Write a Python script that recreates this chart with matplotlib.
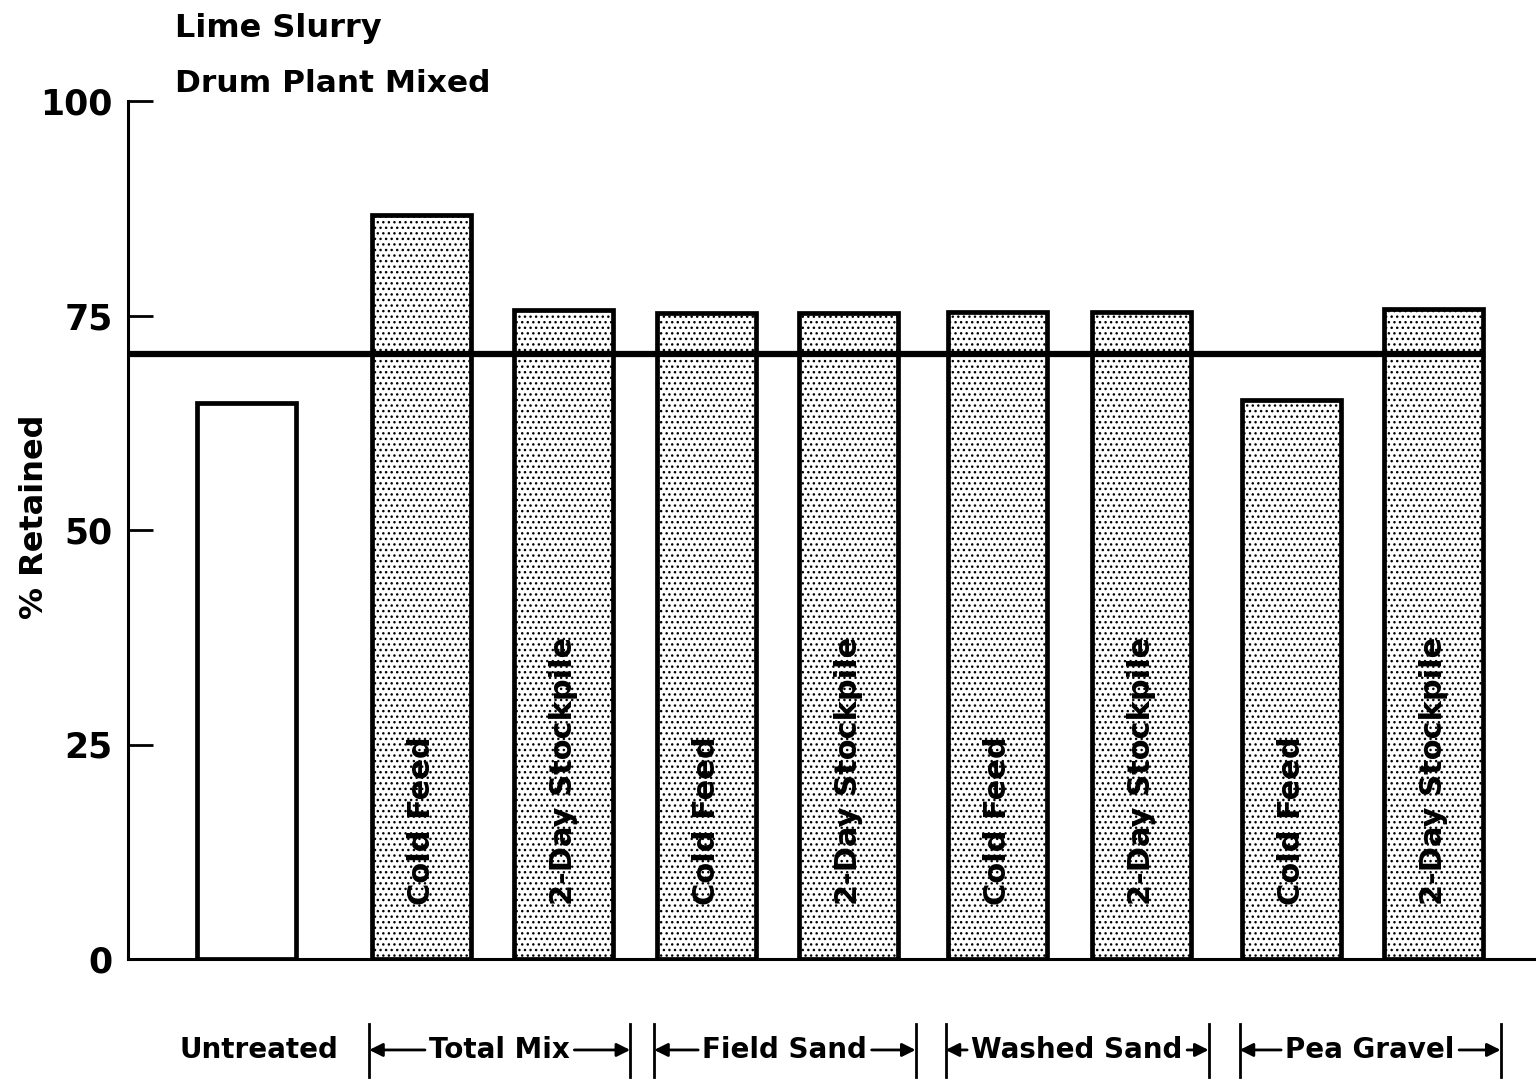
import matplotlib.pyplot as plt

# Data
bar_labels = ['', 'Cold Feed', '2-Day Stockpile', 'Cold Feed', '2-Day Stockpile',
              'Cold Feed', '2-Day Stockpile', 'Cold Feed', '2-Day Stockpile']
retained = [64.8, 86.7, 75.6, 75.3, 75.3, 75.4, 75.4, 65.2, 75.7]
treated = [False, True, True, True, True, True, True, True, True]
x_pos = [0, 1.224, 2.217, 3.217, 4.213, 5.255, 6.262, 7.311, 8.304]
groups = ['Total Mix', 'Field Sand', 'Washed Sand', 'Pea Gravel']
group_bars = [(1, 2), (3, 4), (5, 6), (7, 8)]
criterion = 70.5
y_ticks = [0, 25, 50, 75, 100]

plt.rcParams['font.family'] = 'DejaVu Sans'
plt.rcParams['font.weight'] = 'bold'

fig = plt.figure(figsize=(15.36, 10.83), dpi=100)
ax = fig.add_axes([128 / 1536, 124 / 1083, 1 - 128 / 1536, 858 / 1083])

w = 0.692
for x, v, t, lab in zip(x_pos, retained, treated, bar_labels):
    ax.bar(x, v, width=w, facecolor='white', edgecolor='black', linewidth=3.4,
           hatch='...' if t else None, zorder=2)
    if lab:
        ax.text(x, 6.3, lab, rotation=90, ha='center', va='bottom',
                fontsize=22, fontweight='bold', zorder=4)

x_left = (128 - 246.5) / 143
x_right = (1536 - 246.5) / 143
ax.hlines(criterion, x_left, x_pos[-1] + w / 2, color='black', linewidth=4.5, zorder=3)

ax.set_xlim(x_left, x_right)
ax.set_ylim(0, 100)
ax.set_xticks([])
ax.set_yticks(y_ticks)
ax.set_yticklabels([str(t) for t in y_ticks], fontsize=25, fontweight='bold')
ax.tick_params(axis='y', direction='in', length=18, width=2, pad=11)
for s in ['top', 'right']:
    ax.spines[s].set_visible(False)
ax.spines['left'].set_linewidth(2.2)
ax.spines['bottom'].set_linewidth(2.2)

fig.text(35 / 1536, 1 - 517 / 1083, '% Retained', rotation=90, ha='center',
         va='center', fontsize=23, fontweight='bold')
fig.text(175 / 1536, 1 - 28 / 1083, 'Lime Slurry', va='center', fontsize=23, fontweight='bold')
fig.text(175 / 1536, 1 - 84 / 1083, 'Drum Plant Mixed', va='center', fontsize=22.5, fontweight='bold')

# Group labels below the axis with bracket arrows
trans = ax.get_xaxis_transform()
ylab = -0.106
ax.text(0.085, ylab, 'Untreated', transform=trans, ha='center', va='center',
        fontsize=20, fontweight='bold', clip_on=False)

fig.canvas.draw()
renderer = fig.canvas.get_renderer()
inv = ax.transData.inverted()
for name, (i, j) in zip(groups, group_bars):
    lo = x_pos[i] - w / 2 - 0.02
    hi = x_pos[j] + w / 2 + 0.12
    mid = (lo + hi) / 2
    txt = ax.text(mid, ylab, name, transform=trans, ha='center', va='center',
                  fontsize=20, fontweight='bold', clip_on=False)
    bb = txt.get_window_extent(renderer)
    t_lo = inv.transform((bb.x0, bb.y0))[0] - 0.03
    t_hi = inv.transform((bb.x1, bb.y0))[0] + 0.03
    for xb in (lo, hi):
        ax.plot([xb, xb], [-0.076, -0.138], transform=trans, color='black',
                linewidth=2, clip_on=False)
    ax.annotate('', xy=(lo, ylab), xytext=(t_lo, ylab), xycoords=trans, textcoords=trans,
                arrowprops=dict(arrowstyle='-|>', color='black', lw=2, mutation_scale=20,
                                shrinkA=0, shrinkB=0))
    ax.annotate('', xy=(hi, ylab), xytext=(t_hi, ylab), xycoords=trans, textcoords=trans,
                arrowprops=dict(arrowstyle='-|>', color='black', lw=2, mutation_scale=20,
                                shrinkA=0, shrinkB=0))

fig.savefig('out.png', dpi=100)
